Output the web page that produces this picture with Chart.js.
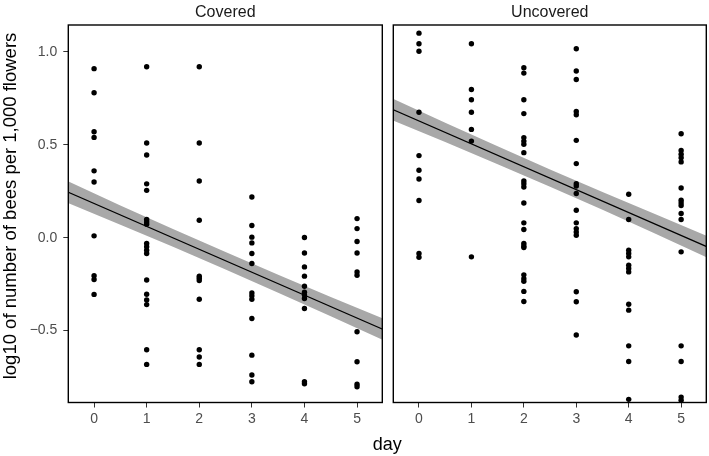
<!DOCTYPE html>
<html><head><meta charset="utf-8">
<script src="https://cdn.jsdelivr.net/npm/chart.js@4/dist/chart.umd.min.js"></script>
<style>
html,body{margin:0;padding:0;background:#fff;}
#wrap{position:relative;width:709px;height:456px;background:#fff;}
#wrap canvas{position:absolute;left:0;top:0;}
</style></head><body>
<div id="wrap"><canvas id="c1" width="709" height="456"></canvas><canvas id="c2" width="709" height="456"></canvas></div>
<script>
// ---- tick labels / categories ----
const dayTicks = [0, 1, 2, 3, 4, 5];
const yTickValues = [-0.5, 0, 0.5, 1.0];
const panelTitles = ['Covered', 'Uncovered'];
const xTitle = 'day';
const yTitle = 'log10 of number of bees per 1,000 flowers';

// ---- Covered panel: observations per day ----
const coveredDay0 = [0.91, 0.78, 0.57, 0.54, 0.36, 0.30, 0.01, -0.205, -0.225, -0.305];
const coveredDay1 = [0.92, 0.51, 0.445, 0.29, 0.255, 0.098, 0.085, 0.073, -0.031, -0.049, -0.067, -0.085, -0.228, -0.304, -0.335, -0.36, -0.603, -0.682];
const coveredDay2 = [0.92, 0.51, 0.305, 0.094, -0.207, -0.218, -0.230, -0.331, -0.603, -0.642, -0.682];
const coveredDay3 = [0.219, 0.066, 0.003, -0.028, -0.085, -0.139, -0.297, -0.313, -0.331, -0.435, -0.632, -0.739, -0.775];
const coveredDay4 = [0.001, -0.082, -0.157, -0.207, -0.261, -0.293, -0.309, -0.327, -0.381, -0.775, -0.786];
const coveredDay5 = [0.103, 0.049, -0.020, -0.082, -0.184, -0.202, -0.506, -0.668, -0.789, -0.802];

// ---- Uncovered panel: observations per day ----
const uncoveredDay0 = [1.101, 1.044, 1.004, 0.675, 0.442, 0.363, 0.316, 0.200, -0.085, -0.105];
const uncoveredDay1 = [1.044, 0.798, 0.743, 0.675, 0.583, 0.520, -0.103];
const uncoveredDay2 = [0.915, 0.886, 0.743, 0.668, 0.539, 0.520, 0.503, 0.458, 0.305, 0.291, 0.273, 0.187, 0.080, 0.044, -0.031, -0.044, -0.053, -0.200, -0.221, -0.235, -0.289, -0.343];
const uncoveredDay3 = [1.017, 0.897, 0.852, 0.680, 0.662, 0.524, 0.399, 0.291, 0.278, 0.238, 0.148, 0.080, 0.049, 0.031, 0.013, -0.291, -0.345, -0.524];
const uncoveredDay4 = [0.234, 0.098, -0.067, -0.085, -0.103, -0.148, -0.166, -0.184, -0.358, -0.390, -0.582, -0.666, -0.870];
const uncoveredDay5 = [0.560, 0.470, 0.449, 0.431, 0.408, 0.268, 0.202, 0.187, 0.173, 0.130, 0.098, -0.076, -0.582, -0.666, -0.858, -0.875];

// ---- fitted line and confidence band ----
const fitDays = [-0.5, 5.5];
const coveredFit = [0.246, -0.494];
const uncoveredFit = [0.690, -0.049];
const bandDays = [-0.5, 0.5, 1.5, 2.5, 3.5, 4.5, 5.5];
const coveredUpper = [0.304, 0.174, 0.047, -0.077, -0.200, -0.319, -0.436];
const coveredLower = [0.188, 0.070, -0.049, -0.171, -0.296, -0.423, -0.552];
const uncoveredUpper = [0.748, 0.619, 0.492, 0.367, 0.246, 0.127, 0.009];
const uncoveredLower = [0.632, 0.515, 0.396, 0.275, 0.150, 0.023, -0.107];

const FONT = "'Liberation Sans', Arial, Helvetica, sans-serif";
const X_MIN = -0.49, X_MAX = 5.48, Y_MIN = -0.887, Y_MAX = 1.145;

function pts(dayLists) {
  const out = [];
  dayLists.forEach((vals, i) => vals.forEach(v => out.push({x: dayTicks[i], y: v})));
  return out;
}
function xy(xs, ys) { return xs.map((x, i) => ({x, y: ys[i]})); }

function datasets(obs, fit, upper, lower) {
  return [
    {type: 'scatter', data: pts(obs), pointRadius: 2.7, pointHoverRadius: 2.7, pointBackgroundColor: '#000', pointBorderWidth: 0, borderColor: '#000'},
    {type: 'line', data: xy(fitDays, fit), borderColor: '#000', borderWidth: 1.3, pointRadius: 0, fill: false, tension: 0},
    {type: 'line', data: xy(bandDays, upper), borderWidth: 0, borderColor: 'rgba(0,0,0,0)', pointRadius: 0, backgroundColor: '#a8a8a8', fill: '+1', tension: 0},
    {type: 'line', data: xy(bandDays, lower), borderWidth: 0, borderColor: 'rgba(0,0,0,0)', pointRadius: 0, fill: false, tension: 0}
  ];
}

const panelBorder = {
  id: 'panelBorder',
  afterDraw(chart) {
    const {ctx, chartArea: a} = chart;
    ctx.save();
    ctx.strokeStyle = '#000';
    ctx.lineWidth = 1.4;
    ctx.strokeRect(a.left, a.top, a.right - a.left, a.bottom - a.top);
    ctx.restore();
  }
};

function xScale() {
  return {
    type: 'linear', min: X_MIN, max: X_MAX,
    afterBuildTicks: s => { s.ticks = dayTicks.map(v => ({value: v})); },
    afterFit: s => { s.height = 53.5; },
    ticks: {font: {family: FONT, size: 14}, color: '#4d4d4d', padding: 3, maxRotation: 0, autoSkip: false},
    grid: {display: true, drawOnChartArea: false, drawTicks: true, tickLength: 5, tickColor: '#333', tickWidth: 1},
    border: {display: false}
  };
}

function commonOptions(title, padding, showY) {
  return {
    responsive: false, animation: false, devicePixelRatio: 1,
    layout: {padding},
    plugins: {
      legend: {display: false}, tooltip: {enabled: false},
      title: {display: true, text: title, fullSize: false, color: '#1a1a1a',
              font: {family: FONT, size: 16, weight: 'normal'}, padding: {top: 2.9, bottom: 2.9}}
    },
    scales: {
      x: xScale(),
      y: {
        type: 'linear', min: Y_MIN, max: Y_MAX, display: showY,
        afterBuildTicks: s => { s.ticks = yTickValues.map(v => ({value: v})); },
        afterFit: s => { if (showY) s.width = 68.3; },
        ticks: {font: {family: FONT, size: 14}, color: '#4d4d4d', padding: 6,
                callback: v => v.toFixed(1).replace('-', '\u2212')},
        grid: {display: true, drawOnChartArea: false, drawTicks: true, tickLength: 5, tickColor: '#333', tickWidth: 1},
        border: {display: false},
        title: {display: false}
      }
    }
  };
}

const yTitlePlugin = {
  id: 'yTitle',
  afterDraw(chart) {
    const {ctx} = chart;
    ctx.save();
    ctx.font = '18.5px ' + FONT;
    ctx.fillStyle = '#000';
    ctx.textAlign = 'center';
    ctx.textBaseline = 'middle';
    ctx.translate(11, 206);
    ctx.rotate(-Math.PI / 2);
    ctx.fillText(yTitle, 0, 0);
    ctx.restore();
  }
};

const c1 = new Chart(document.getElementById('c1'), {
  type: 'scatter',
  data: {datasets: datasets([coveredDay0, coveredDay1, coveredDay2, coveredDay3, coveredDay4, coveredDay5], coveredFit, coveredUpper, coveredLower)},
  options: commonOptions(panelTitles[0], {left: 0, right: 326.7, top: 0, bottom: 0}, true),
  plugins: [panelBorder, yTitlePlugin]
});

const xTitlePlugin = {
  id: 'xTitle',
  afterDraw(chart) {
    const {ctx, chartArea: a} = chart;
    const cx = (c1.chartArea.left + a.right) / 2;
    ctx.save();
    ctx.font = '18px ' + FONT;
    ctx.fillStyle = '#000';
    ctx.textAlign = 'center';
    ctx.textBaseline = 'middle';
    ctx.fillText(xTitle, cx, 445);
    ctx.restore();
  }
};

const c2 = new Chart(document.getElementById('c2'), {
  type: 'scatter',
  data: {datasets: datasets([uncoveredDay0, uncoveredDay1, uncoveredDay2, uncoveredDay3, uncoveredDay4, uncoveredDay5], uncoveredFit, uncoveredUpper, uncoveredLower)},
  options: commonOptions(panelTitles[1], {left: 393.3, right: 1.7, top: 0, bottom: 0}, false),
  plugins: [panelBorder, xTitlePlugin]
});
</script>
</body></html>
